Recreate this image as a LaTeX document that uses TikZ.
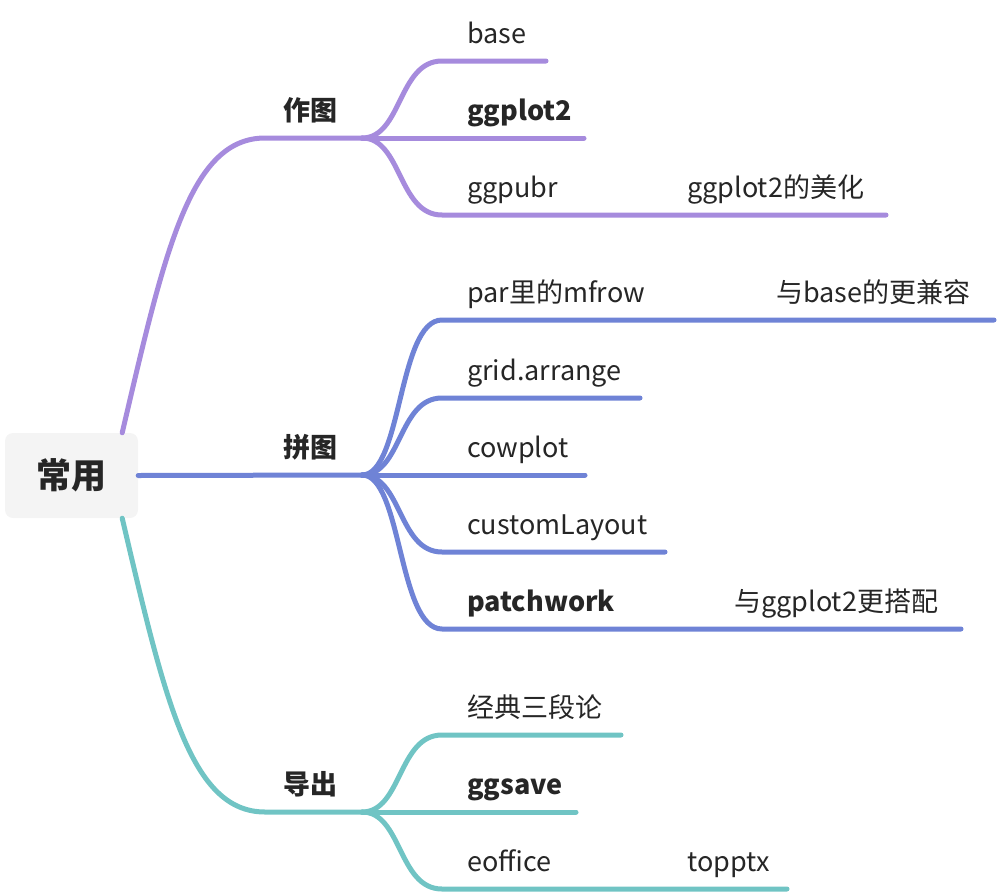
\documentclass[tikz,border=0pt]{standalone}
\usepackage{fontspec}
\setmainfont{Noto Sans CJK SC}
\definecolor{cpurp}{HTML}{A68BDD}
\definecolor{cblue}{HTML}{6F83D6}
\definecolor{cteal}{HTML}{70C4C4}
\definecolor{ctext}{HTML}{262626}
\definecolor{croot}{HTML}{F4F4F4}
\tikzset{
  br/.style={line width=5pt, line cap=round},
  lbl/.style={anchor=base west, inner sep=0pt, text=ctext, font=\fontsize{27}{31}\selectfont},
  blbl/.style={lbl, font=\fontsize{27}{31}\selectfont\bfseries},
  rootbox/.style={fill=croot, rounded corners=8pt, minimum width=133pt, minimum height=85pt, inner sep=0pt, text=ctext, font=\fontsize{35}{40}\selectfont\bfseries},
}
\begin{document}
\begin{tikzpicture}[x=1pt,y=-1pt]
\useasboundingbox (0,0) rectangle (998,894);
% root
\node[rootbox] (root) at (71.5,475.5) {常用};
% main labels
\node[blbl] (m1) at (283,120) {作图};
\node[blbl] (m2) at (283,457) {拼图};
\node[blbl] (m3) at (283,794) {导出};
\coordinate (s1) at (362,138);
\coordinate (s2) at (362,475);
\coordinate (s3) at (362,812);
% children labels
\node[lbl]  (a1) at (467,43)  {base};
\node[blbl] (a2) at (467,120) {ggplot2};
\node[lbl]  (a3) at (467,197) {ggpubr};
\node[lbl]  (a3x) at (687,197) {ggplot2的美化};
\node[lbl]  (b1) at (467,302) {par里的mfrow};
\node[lbl]  (b1x) at (776,302) {与base的更兼容};
\node[lbl]  (b2) at (467,380) {grid.arrange};
\node[lbl]  (b3) at (467,457) {cowplot};
\node[lbl]  (b4) at (467,534) {customLayout};
\node[blbl] (b5) at (467,611) {patchwork};
\node[lbl]  (b5x) at (734,611) {与ggplot2更搭配};
\node[lbl]  (c1) at (467,717) {经典三段论};
\node[blbl] (c2) at (467,794) {ggsave};
\node[lbl]  (c3) at (467,871) {eoffice};
\node[lbl]  (c3x) at (687,871) {topptx};
% line end coordinates
\coordinate (a1e) at (546,61);
\coordinate (a2e) at (584,138);
\coordinate (a3e) at (886,215);
\coordinate (b1e) at (994,320);
\coordinate (b2e) at (640,398);
\coordinate (b3e) at (585,475);
\coordinate (b4e) at (665,552);
\coordinate (b5e) at (961,629);
\coordinate (c1e) at (621,735);
\coordinate (c2e) at (576,812);
\coordinate (c3e) at (787,889);
% root to main branches
\draw[br, cpurp] ([xshift=-16pt]root.north east) .. controls (165,250) and (190,138) .. (265,138) -- (s1);
\draw[br, cblue] (root.east) -- (s2);
\draw[br, cteal] ([xshift=-16pt]root.south east) .. controls (165,700) and (190,812) .. (265,812) -- (s3);
% purple children
\foreach \e/\y in {a1e/61, a2e/138, a3e/215}
  \draw[br, cpurp] (s1) .. controls (402,138) and (398,\y) .. (442,\y) -- (\e);
% blue children
\foreach \e/\y in {b1e/320, b2e/398, b3e/475, b4e/552, b5e/629}
  \draw[br, cblue] (s2) .. controls (402,475) and (398,\y) .. (442,\y) -- (\e);
% teal children
\foreach \e/\y in {c1e/735, c2e/812, c3e/889}
  \draw[br, cteal] (s3) .. controls (402,812) and (398,\y) .. (442,\y) -- (\e);
\end{tikzpicture}
\end{document}
